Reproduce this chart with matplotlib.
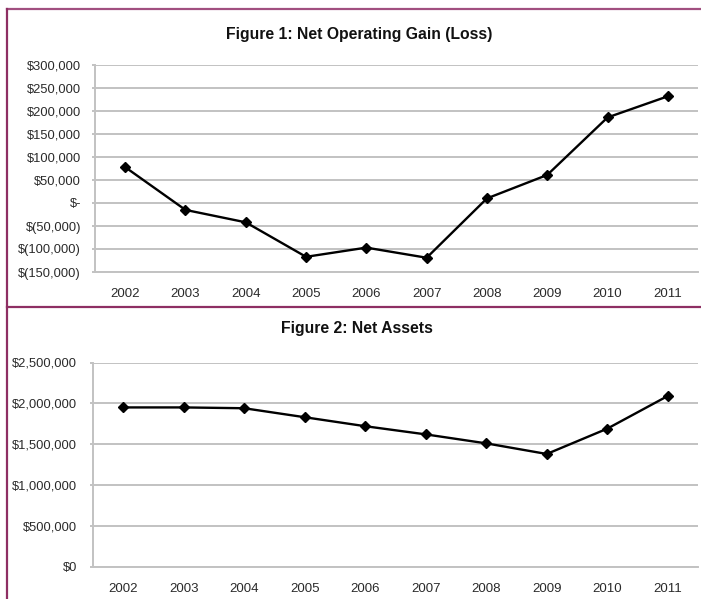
import matplotlib
matplotlib.use("Agg")
import matplotlib.pyplot as plt
from matplotlib.lines import Line2D

years = ["2002", "2003", "2004", "2005", "2006", "2007", "2008", "2009", "2010", "2011"]
net_operating = [78000, -15000, -42000, -117000, -97000, -119000, 10000, 61000, 186000, 232000]
net_assets = [1950000, 1950000, 1940000, 1830000, 1720000, 1620000, 1510000, 1380000, 1690000, 2090000]

ticks1 = [300000, 250000, 200000, 150000, 100000, 50000, 0, -50000, -100000, -150000]
tick1_labels = ["$300,000", "$250,000", "$200,000", "$150,000", "$100,000", "$50,000", "$-",
                "$(50,000)", "$(100,000)", "$(150,000)"]
ticks2 = [2500000, 2000000, 1500000, 1000000, 500000, 0]
tick2_labels = ["$2,500,000", "$2,000,000", "$1,500,000", "$1,000,000", "$500,000", "$0"]

plt.rcParams["font.family"] = ["Liberation Sans", "DejaVu Sans"]

W, H = 701, 599
fig = plt.figure(figsize=(W / 100, H / 100), dpi=100)
fig.patch.set_facecolor("white")

grid_c = "#c2c2c2"
txt_c = "#2a2a2a"

def style(ax, ticks, labels, ymin, ymax, pad_y):
    x = list(range(len(years)))
    ax.set_xlim(-0.5, len(years) - 0.5)
    ax.set_ylim(ymin, ymax)
    ax.set_yticks(ticks)
    ax.set_yticklabels(labels)
    ax.set_xticks(x)
    ax.set_xticklabels(years)
    ax.grid(axis="y", color=grid_c, linewidth=1.4)
    ax.set_axisbelow(True)
    for s in ["top", "right"]:
        ax.spines[s].set_visible(False)
    ax.spines["left"].set_color(grid_c)
    ax.spines["left"].set_linewidth(1.4)
    ax.spines["bottom"].set_color(grid_c)
    ax.spines["bottom"].set_linewidth(1.4)
    ax.tick_params(axis="y", length=2, color=grid_c, width=1.4, labelsize=9.3, labelcolor=txt_c, pad=pad_y)
    ax.tick_params(axis="x", length=0, labelsize=9.5, labelcolor=txt_c, pad=11.5)

x = list(range(len(years)))
ax1 = fig.add_axes([95 / W, 1 - 272 / H, (698 - 95) / W, (272 - 65) / H])
ax1.plot(x, net_operating, color="black", linewidth=1.7, marker="D", markersize=5, zorder=3)
style(ax1, ticks1, tick1_labels, -150000, 300000, 8)

ax2 = fig.add_axes([93 / W, 1 - 566.7 / H, (698 - 93) / W, (566.7 - 362.5) / H])
ax2.plot(x, net_assets, color="black", linewidth=1.7, marker="D", markersize=5, zorder=3)
style(ax2, ticks2, tick2_labels, 0, 2500000, 9.5)

fig.text(359 / W, 1 - 34 / H, "Figure 1: Net Operating Gain (Loss)", ha="center", va="center",
         fontsize=11.3, fontweight="bold", color="#111111")
fig.text(357 / W, 1 - 328 / H, "Figure 2: Net Assets", ha="center", va="center",
         fontsize=11.3, fontweight="bold", color="#111111")

frame_c = "#8e2f63"
fig.add_artist(Line2D([7 / W, 1.0], [1 - 9 / H, 1 - 9 / H], color="#a14f80", linewidth=1.6))
fig.add_artist(Line2D([7 / W, 7 / W], [0, 1 - 9 / H], color=frame_c, linewidth=1.6))
fig.add_artist(Line2D([7 / W, 1.0], [1 - 307 / H, 1 - 307 / H], color=frame_c, linewidth=1.6))

fig.savefig("out.png", dpi=100)
